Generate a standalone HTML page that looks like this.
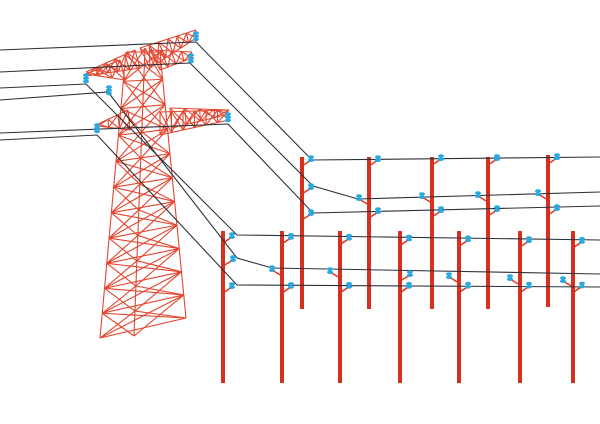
<!DOCTYPE html>
<html><head><meta charset="utf-8"><style>
html,body{margin:0;padding:0;background:#fff;width:600px;height:424px;overflow:hidden}
svg{display:block}
</style></head><body>
<svg id="s" width="600" height="424" viewBox="0 0 600 424" xmlns="http://www.w3.org/2000/svg">
<g id="tower" stroke="#e4442e" stroke-width="1.1" fill="none"></g>
<g id="arms" stroke="#e0392a" stroke-width="1.6" fill="none"></g>
<g id="poles" fill="#d8301f"></g>
<g id="wires" stroke="#2c3038" stroke-width="1.1" fill="none"></g>
<g id="ins" fill="#29a9e0"></g>
</svg>
<script>
var NS="http://www.w3.org/2000/svg";
function el(g,t,a){var e=document.createElementNS(NS,t);for(var k in a)e.setAttribute(k,a[k]);document.getElementById(g).appendChild(e);return e;}
function ln(g,x1,y1,x2,y2){el(g,'line',{x1:x1,y1:y1,x2:x2,y2:y2});}
function pl(g,pts){el(g,'polyline',{points:pts.map(p=>p.join(',')).join(' ')});}
function ins(x,y,n){for(var i=0;i<n;i++){el('ins','ellipse',{cx:x,cy:y+i*3.2,rx:3,ry:1.8});}}
function lerp(a,b,t){return [a[0]+(b[0]-a[0])*t,a[1]+(b[1]-a[1])*t];}
var LT=[126,52],LB=[100,338],RT=[160,52],RB=[186,318],MT=[145,48],MB=[134,336];
var N=11,L=[],R=[],M=[];
for(var i=0;i<=N;i++){var t=Math.pow(i/N,0.95);L.push(lerp(LT,LB,t));R.push(lerp(RT,RB,t));M.push(lerp(MT,MB,t));}
pl('tower',L);pl('tower',R);pl('tower',M);
for(var i=0;i<N;i++){
 ln('tower',L[i][0],L[i][1],R[i][0],R[i][1]);
 ln('tower',L[i][0],L[i][1],M[i+1][0],M[i+1][1]);
 ln('tower',M[i][0],M[i][1],L[i+1][0],L[i+1][1]);
 ln('tower',M[i][0],M[i][1],R[i+1][0],R[i+1][1]);
 ln('tower',R[i][0],R[i][1],M[i+1][0],M[i+1][1]);
 ln('tower',L[i][0],L[i][1],R[i+1][0],R[i+1][1]);
 ln('tower',R[i][0],R[i][1],L[i+1][0],L[i+1][1]);
}
ln('tower',L[N][0],L[N][1],R[N][0],R[N][1]);
function arm(a1,a2,b1,b2,n){ln('tower',a1[0],a1[1],a2[0],a2[1]);ln('tower',b1[0],b1[1],b2[0],b2[1]);
 for(var i=0;i<n;i++){var p=lerp(a1,a2,i/n),q=lerp(b1,b2,(i+1)/n),r=lerp(b1,b2,i/n),s=lerp(a1,a2,(i+1)/n);
 ln('tower',p[0],p[1],q[0],q[1]);ln('tower',r[0],r[1],s[0],s[1]);ln('tower',p[0],p[1],r[0],r[1]);}}
arm([140,48],[196,30],[150,68],[196,38],6);
arm([150,50],[192,52],[160,70],[192,58],4);
arm([135,50],[86,72],[140,68],[86,76],5);
arm([120,60],[86,74],[125,80],[86,74],3);
arm([160,112],[229,110],[160,135],[229,120],6);
arm([170,108],[229,110],[172,128],[229,114],4);
arm([128,110],[98,124],[130,130],[98,126],3);
var back=[302,369,432,488,548], front=[223,282,340,400,459,520,573];
back.forEach(function(x,i){el('poles','rect',{x:x-2,y:157-(i==4?2:0),width:4,height:152});});
front.forEach(function(x){el('poles','rect',{x:x-2,y:231,width:4,height:152});});
function w(p){pl('wires',p);}
w([[0,50],[196,42],[312,160],[600,157]]);
w([[0,72],[190,63],[313,186],[358,199],[600,192]]);
w([[0,88],[86,84],[237,235],[600,240]]);
w([[0,100],[108,92],[237,258],[272,268],[600,274]]);
w([[0,133],[228,124],[313,213],[600,206]]);
w([[0,140],[97,135],[237,285],[600,287]]);
ins(196,33,3);ins(191,55,3);ins(86,75,3);ins(109,87,3);ins(228,114,3);ins(97,125,3);
function ca(px,y,dx,iy){ln('arms',px,y+8,px+dx,iy+2);ins(px+dx,iy-1,2);}
back.forEach(function(x,i){
 var yt=[158,158,157,157,156][i], yb=[212,210,209,208,207][i], ym=[186,197,195,194,192][i];
 ca(x,yt,9,yt);ca(x,yb,9,yb);
 if(i==0)ca(x,ym,9,ym); else ca(x,ym,-10,ym);
});
front.forEach(function(x,i){
 var yt=235+i*0.8, yb=285-i*0.1, ym=[258,268,270,273,275,277,279][i];
 ca(x,yt,9,yt);ca(x,yb,9,yb);
 var d=(i==0||i==3)?10:-10; ca(x,ym,d,ym);
});
</script>
</body></html>
